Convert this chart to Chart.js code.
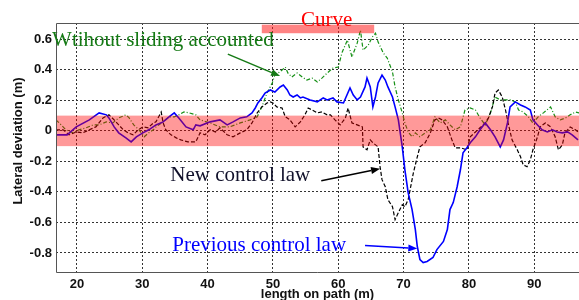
<!DOCTYPE html>
<html><head><meta charset="utf-8">
<script src="https://cdn.jsdelivr.net/npm/chart.js@4.4.1/dist/chart.umd.min.js"></script>
<style>html,body{margin:0;padding:0;background:#fff;}#wrap{width:579px;height:300px;}</style>
</head><body><div id="wrap"><canvas id="c" width="579" height="300"></canvas></div>
<script>
// ---- data ----
const xTicks = [20,30,40,50,60,70,80,90];
const yTicks = [-0.8,-0.6,-0.4,-0.2,0,0.2,0.4,0.6];

const blueX = [16.8,18.5,19.9,21.9,23.4,24.5,24.9,25.7,26.4,27.5,28.3,29.1,30.1,31.0,32.1,33.2,34.1,34.9,35.6,36.7,37.8,38.2,38.85,40.4,41.9,43.0,43.9,45.0,46.0,46.8,47.3,47.7,48.3,48.8,49.6,50.3,51.1,51.6,52.2,52.6,53.1,53.7,54.2,54.6,55.7,56.8,57.7,58.3,59.2,59.8,60.8,61.8,62.3,62.9,63.4,64.1,64.4,64.9,65.3,65.7,66.1,66.7,67.2,67.6,68.3,68.7,69.2,69.8,70.2,70.7,71.3,71.8,72.1,72.5,73.0,73.6,74.5,75.1,76.1,76.7,77.1,77.6,78.2,78.7,79.1,79.7,80.2,81.0,81.7,82.5,83.3,84.0,84.8,85.3,85.9,86.3,87.1,87.9,88.6,89.4,89.8,90.5,91.2,92.0,92.8,93.5,94.3,95.1,95.8,96.7];
const blueY = [-0.026,-0.026,0.026,0.072,0.118,0.105,0.085,0.026,-0.013,-0.046,-0.072,-0.039,-0.013,0.007,0.039,0.059,0.092,0.118,0.085,0.026,0.007,0.039,0.033,0.059,0.072,0.039,0.059,0.085,0.092,0.118,0.150,0.183,0.216,0.248,0.268,0.255,0.288,0.300,0.268,0.235,0.222,0.235,0.216,0.222,0.203,0.190,0.216,0.203,0.216,0.190,0.183,0.281,0.235,0.203,0.222,0.288,0.346,0.288,0.157,0.222,0.314,0.366,0.333,0.288,0.222,0.157,0.072,-0.105,-0.255,-0.405,-0.516,-0.647,-0.758,-0.843,-0.863,-0.856,-0.830,-0.778,-0.725,-0.647,-0.516,-0.470,-0.366,-0.255,-0.144,-0.111,-0.078,-0.039,0.007,0.052,0.007,-0.039,-0.105,-0.059,0.052,0.157,0.190,0.170,0.157,0.137,0.072,0.039,0.007,-0.007,0.007,-0.007,-0.013,-0.007,-0.026,-0.059];

const greenX = [16.8,17.6,18.3,19.4,20.3,21.4,22.5,23.4,24.5,25.5,26.4,27.5,28.0,28.7,29.5,30.3,31.0,31.7,32.1,33.2,34.1,34.9,35.6,36.4,37.2,38.2,38.85,40.4,41.9,43.4,45.0,46.5,47.6,48.3,49.1,49.9,50.3,50.8,51.4,51.9,52.3,52.9,53.7,54.5,55.2,56.0,56.8,57.5,58.3,59.2,60.0,60.6,61.4,62.1,62.9,63.4,63.8,64.6,65.2,65.7,66.1,66.9,67.5,68.3,68.7,69.2,69.8,70.2,70.7,71.3,71.8,72.5,73.3,74.1,74.8,75.6,76.4,77.1,77.9,78.7,79.4,80.2,81.0,81.7,82.5,83.3,84.0,84.8,85.6,86.3,87.1,87.6,88.3,89.1,89.8,90.6,91.4,92.5,93.2,94.0,94.8,95.5,96.3,96.9];
const greenY = [0.072,0.039,0.007,-0.013,0.007,0.020,0.039,0.039,0.059,0.052,0.085,0.105,0.085,0.039,0.007,-0.039,-0.013,0.007,0.026,0.059,0.092,0.092,0.105,0.124,0.118,0.105,0.072,0.052,0.026,0.026,0.052,0.072,0.092,0.157,0.248,0.314,0.366,0.379,0.399,0.418,0.379,0.353,0.379,0.353,0.333,0.346,0.320,0.346,0.379,0.412,0.418,0.516,0.595,0.484,0.575,0.660,0.529,0.562,0.614,0.640,0.582,0.510,0.477,0.386,0.288,0.203,0.118,0.052,-0.007,-0.039,-0.013,-0.039,-0.013,0.007,0.092,0.052,0.072,0.039,0.007,0.026,0.137,0.150,0.137,0.085,0.039,0.118,0.222,0.203,0.203,0.203,0.190,0.137,0.124,0.092,0.052,0.092,0.118,0.157,0.092,0.072,0.085,0.105,0.124,0.118];

const blackX = [16.8,17.9,18.8,19.9,20.9,21.9,22.9,24.0,24.9,25.7,26.4,27.1,27.8,28.6,29.4,30.1,30.9,31.7,32.1,32.9,33.2,33.6,34.4,35.2,35.9,37.0,38.2,38.85,39.6,40.4,41.2,41.9,43.0,43.9,45.0,46.0,46.8,47.6,48.3,49.1,49.6,50.0,50.6,51.4,51.9,52.6,53.4,54.2,54.9,55.4,56.0,56.8,57.5,58.3,58.8,59.5,60.3,61.1,61.5,62.1,62.9,63.7,63.8,64.4,64.9,65.3,66.1,66.4,66.7,67.2,67.6,68.3,68.7,69.2,69.8,70.2,70.7,71.0,71.5,72.1,72.5,73.3,74.1,74.8,75.3,75.9,76.7,77.4,77.9,78.7,79.7,80.2,81.0,81.7,82.5,83.0,83.6,84.0,84.5,85.1,85.6,86.0,86.6,87.4,87.9,88.3,88.9,89.4,89.8,90.5,90.9,91.7,92.5,93.2,93.7,94.3,94.7,95.5,96.3,96.9];
const blackY = [0.007,0.007,-0.026,-0.007,-0.013,0.007,0.026,0.085,0.105,0.072,0.039,0.007,-0.013,-0.026,0.007,0.026,0.020,0.052,0.059,0.124,0.052,0.007,-0.026,-0.046,-0.059,-0.072,-0.072,-0.013,-0.026,0.007,-0.007,0.020,-0.026,-0.039,-0.013,0.007,0.052,0.118,0.157,0.183,0.190,0.183,0.157,0.150,0.092,0.072,0.026,0.059,0.105,0.150,0.137,0.118,0.124,0.105,0.105,0.072,0.039,0.085,0.150,0.052,0.039,0.026,-0.105,-0.124,-0.059,-0.078,-0.105,-0.235,-0.320,-0.366,-0.451,-0.497,-0.582,-0.536,-0.484,-0.497,-0.451,-0.386,-0.275,-0.170,-0.105,-0.078,-0.013,0.072,0.085,0.072,0.026,-0.059,-0.111,-0.111,-0.124,-0.039,-0.007,0.020,0.052,0.085,0.157,0.248,0.268,0.222,0.137,0.052,-0.059,-0.124,-0.170,-0.222,-0.235,-0.190,-0.124,-0.039,0.026,0.052,0.026,-0.039,-0.124,-0.092,-0.013,0.026,0.007,-0.013];

// tolerance band and curve section
const bandRange = [-0.1, 0.1];
const curveRange = [48.3, 65.5];

function pts(xs, ys){ const n=Math.min(xs.length, ys.length); const o=[]; for(let i=0;i<n;i++) o.push({x:xs[i], y:ys[i]}); return o; }

const SERIF = '"Liberation Serif","Times New Roman",serif';
const SANS = '"Liberation Sans",Arial,sans-serif';

function arrow(ctx, x1,y1,x2,y2,color){
  ctx.save();
  ctx.strokeStyle=color; ctx.fillStyle=color; ctx.lineWidth=1.5; ctx.setLineDash([]);
  const ang=Math.atan2(y2-y1,x2-x1), L=9, W=3.5;
  const bx=x2-L*Math.cos(ang), by=y2-L*Math.sin(ang);
  ctx.beginPath(); ctx.moveTo(x1,y1); ctx.lineTo(bx,by); ctx.stroke();
  ctx.beginPath(); ctx.moveTo(x2,y2);
  ctx.lineTo(bx+W*Math.sin(ang), by-W*Math.cos(ang));
  ctx.lineTo(bx-W*Math.sin(ang), by+W*Math.cos(ang));
  ctx.closePath(); ctx.fill();
  ctx.restore();
}

const annot = {
  id:'annot',
  afterDatasetsDraw(chart){
    const {ctx, chartArea:a, scales:{x,y}} = chart;
    ctx.save();
    ctx.beginPath(); ctx.rect(a.left,a.top,a.right-a.left,a.bottom-a.top); ctx.clip();
    const yb1=y.getPixelForValue(bandRange[1]), yb2=y.getPixelForValue(bandRange[0]);
    ctx.fillStyle='rgba(255,0,0,0.4)';
    ctx.fillRect(a.left,yb1,a.right-a.left,yb2-yb1);
    const cx1=x.getPixelForValue(curveRange[0]), cx2=x.getPixelForValue(curveRange[1]);
    const cy1=y.getPixelForValue(0.696), cy2=y.getPixelForValue(0.64);
    ctx.fillStyle='rgba(255,30,30,0.55)';
    ctx.fillRect(cx1,cy1,cx2-cx1,cy2-cy1);
    ctx.restore();

    // frame
    ctx.save();
    ctx.strokeStyle='#555'; ctx.lineWidth=1;
    ctx.beginPath();
    ctx.moveTo(a.right, a.top+0.5); ctx.lineTo(a.left+0.5, a.top+0.5);
    ctx.lineTo(a.left+0.5, a.bottom+0.5); ctx.lineTo(a.right, a.bottom+0.5);
    ctx.stroke();
    ctx.restore();

    // annotation texts
    ctx.save();
    ctx.font='21px '+SERIF; ctx.textBaseline='alphabetic'; ctx.textAlign='left';
    ctx.fillStyle='#ff0000';
    ctx.fillText('Curve', x.getPixelForValue(54.3), y.getPixelForValue(0.69));
    ctx.fillStyle='#157a15';
    ctx.fillText('Wtihout sliding accounted', x.getPixelForValue(16.2), y.getPixelForValue(0.556));
    ctx.fillStyle='#10102a';
    ctx.fillText('New control law', x.getPixelForValue(34.3), y.getPixelForValue(-0.33));
    ctx.fillStyle='#0000ff';
    ctx.fillText('Previous control law', x.getPixelForValue(34.6), y.getPixelForValue(-0.789));
    ctx.restore();

    arrow(ctx, x.getPixelForValue(43.1), y.getPixelForValue(0.503), x.getPixelForValue(51.1), y.getPixelForValue(0.359), '#157a15');
    arrow(ctx, x.getPixelForValue(57.4), y.getPixelForValue(-0.327), x.getPixelForValue(66.4), y.getPixelForValue(-0.248), '#000000');
    arrow(ctx, x.getPixelForValue(64.1), y.getPixelForValue(-0.752), x.getPixelForValue(72.1), y.getPixelForValue(-0.771), '#0000ff');

    // axis titles
    ctx.save();
    ctx.fillStyle='#111'; ctx.font='bold 13px '+SANS;
    ctx.textAlign='center'; ctx.textBaseline='alphabetic';
    ctx.fillText('length on path (m)', (a.left+a.right)/2, 297.5);
    ctx.translate(18, 141); ctx.rotate(-Math.PI/2);
    ctx.textBaseline='middle';
    ctx.fillText('Lateral deviation (m)', 0, 0);
    ctx.restore();
  }
};

const tickFont = {family:'Liberation Sans', size:13, weight:'bold'};

new Chart(document.getElementById('c'), {
  type:'line',
  data:{ datasets:[
    {label:'Previous control law', data:pts(blueX,blueY), borderColor:'#0000ff', borderWidth:1.6, pointRadius:0, tension:0, fill:false},
    {label:'New control law', data:pts(blackX,blackY), borderColor:'#000000', borderWidth:1.2, borderDash:[4,2], pointRadius:0, tension:0, fill:false},
    {label:'Without sliding accounted', data:pts(greenX,greenY), borderColor:'#159015', borderWidth:1.2, borderDash:[4,2,1,2], pointRadius:0, tension:0, fill:false}
  ]},
  options:{
    responsive:false, animation:false, events:[],
    layout:{padding:{top:23,left:0,right:0,bottom:0}},
    plugins:{legend:{display:false}, tooltip:{enabled:false}},
    scales:{
      x:{type:'linear', min:16.8, max:96.85,
        afterBuildTicks:s=>{ s.ticks = xTicks.map(v=>({value:v})); },
        afterFit:s=>{ s.height = 28; },
        grid:{color:'#333', lineWidth:1, drawTicks:false},
        border:{display:false, dash:[2,2]},
        ticks:{padding:5, color:'#111', font:tickFont, maxRotation:0, autoSkip:false, callback:v=>String(v)}
      },
      y:{type:'linear', min:-0.925, max:0.707,
        afterBuildTicks:s=>{ s.ticks = yTicks.map(v=>({value:v})); },
        afterFit:s=>{ s.width = 56; },
        grid:{color:'#333', lineWidth:1, drawTicks:false},
        border:{display:false, dash:[2,2]},
        ticks:{padding:4, color:'#111', font:tickFont, autoSkip:false, callback:v=> v===0 ? '0' : v.toFixed(1)}
      }
    }
  },
  plugins:[annot]
});
</script>
</body></html>
